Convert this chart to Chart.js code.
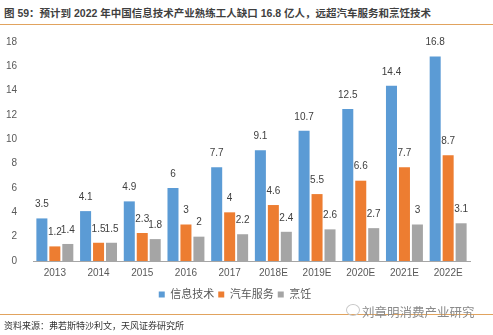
<!DOCTYPE html>
<html>
<head>
<meta charset="utf-8">
<script src="https://cdn.jsdelivr.net/npm/chart.js@4"></script>
<style>
  body { margin: 0; background: #fff; font-family: "Liberation Sans", "Noto Sans CJK SC", sans-serif; }
  #wrap { position: relative; width: 493px; height: 335px; overflow: hidden; }
  #titulo { position: absolute; left: 4px; top: 5px; font-size: 10.5px; font-weight: bold; color: #3f3f3f; white-space: nowrap; }
  .linea { position: absolute; left: 0; width: 493px; height: 1px; background: #e1a35e; }
  #caja { position: absolute; left: 0; top: 28px; width: 493px; height: 282px; }
  #fuente { position: absolute; left: 4px; top: 319px; font-size: 9px; color: #333; white-space: nowrap; }
  #marca { position: absolute; left: 362px; top: 302px; font-size: 12.5px; color: #8a8a8a; white-space: nowrap; }
  #icono { position: absolute; left: 346px; top: 304px; width: 12px; height: 10px; border: 1px solid #c8c8c8; border-radius: 50%; }
</style>
</head>
<body>
<div id="wrap">
  <div id="titulo">图 59：预计到 2022 年中国信息技术产业熟练工人缺口 16.8 亿人，远超汽车服务和烹饪技术</div>
  <div class="linea" style="top:24px"></div>
  <div id="caja"><canvas id="grafico"></canvas></div>
  <div class="linea" style="top:314px"></div>
  <div id="icono"></div>
  <div id="marca">刘章明消费产业研究</div>
  <div id="fuente">资料来源：弗若斯特沙利文，天风证券研究所</div>
</div>
<script>
var anios = ['2013', '2014', '2015', '2016', '2017', '2018E', '2019E', '2020E', '2021E', '2022E'];
var infoTec = [3.5, 4.1, 4.9, 6, 7.7, 9.1, 10.7, 12.5, 14.4, 16.8];
var autoServ = [1.2, 1.5, 2.3, 3, 4, 4.6, 5.5, 6.6, 7.7, 8.7];
var cocina = [1.4, 1.5, 1.8, 2, 2.2, 2.4, 2.6, 2.7, 3, 3.1];
var ticksY = [0, 2, 4, 6, 8, 10, 12, 14, 16, 18];

var fuenteBase = '"Liberation Sans", "Noto Sans CJK SC", sans-serif';

// etiquetas de valor encima de cada barra
var etiquetas = {
    id: 'etiquetas',
    afterDatasetsDraw(chart) {
        var ctx = chart.ctx;
        ctx.save();
        ctx.font = '10px ' + fuenteBase;
        ctx.fillStyle = '#404040';
        ctx.textAlign = 'center';
        ctx.textBaseline = 'middle';
        chart.data.datasets.forEach((ds, i) => {
            chart.getDatasetMeta(i).data.forEach((bar, j) => {
                ctx.fillText(String(ds.data[j]), bar.x, bar.y - 14);
            });
        });
        ctx.restore();
    }
};

var ctx = document.getElementById('grafico').getContext('2d');
new Chart(ctx, {
    type: 'bar',
    data: {
        labels: anios,
        datasets: [
            { label: '信息技术', data: infoTec, backgroundColor: '#5b9bd5' },
            { label: '汽车服务', data: autoServ, backgroundColor: '#ed7d31' },
            { label: '烹饪', data: cocina, backgroundColor: '#a5a5a5' }
        ]
    },
    options: {
        responsive: true,
        maintainAspectRatio: false,
        animation: false,
        datasets: { bar: { categoryPercentage: 0.89, barPercentage: 0.85 } },
        layout: { padding: { top: 12, right: 23, left: 0, bottom: 0 } },
        plugins: {
            legend: {
                position: 'bottom',
                labels: {
                    boxWidth: 6, boxHeight: 6, padding: 4,
                    color: '#595959',
                    font: { size: 11, family: fuenteBase }
                }
            },
            tooltip: { enabled: false }
        },
        scales: {
            x: {
                grid: { display: false, drawTicks: false },
                border: { color: '#a6a6a6' },
                ticks: { color: '#595959', font: { size: 10, family: fuenteBase }, padding: 6 }
            },
            y: {
                min: 0, max: 18,
                afterFit(scale) { scale.width = 33; },
                afterBuildTicks(scale) { scale.ticks = ticksY.map(v => ({ value: v })); },
                grid: { display: false },
                border: { display: false },
                ticks: { color: '#595959', font: { size: 10, family: fuenteBase }, padding: 8 }
            }
        }
    },
    plugins: [etiquetas]
});
</script>
</body>
</html>
